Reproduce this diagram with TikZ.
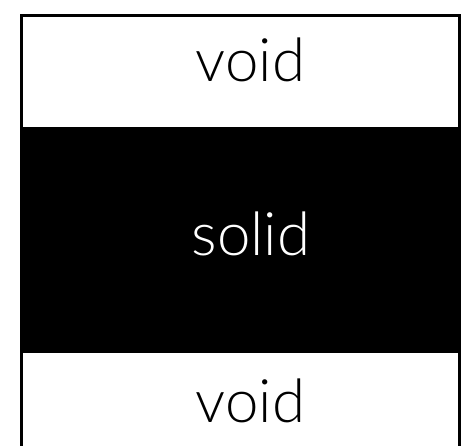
\documentclass[tikz,border=0pt]{standalone}
\usepackage{fontspec}
\setmainfont{Lato}[UprightFont={* Light}]
\begin{document}
\begin{tikzpicture}[x=1pt,y=-1pt,
  lbl/.style={inner sep=0pt,anchor=base,font=\fontsize{60}{60}\selectfont}]
\useasboundingbox (0,0) rectangle (474,446);
\clip (0,0) rectangle (474,446);
\fill[black] (20,127) rectangle (461,353);
\draw[line width=3pt] (21.5,460) -- (21.5,15.5) -- (459.5,15.5) -- (459.5,460);
\node[lbl,text=black] (v1) at (250.5,82) {void};
\node[lbl,text=white] (s) at (251,256) {solid};
\node[lbl,text=black] (v2) at (250.5,422) {void};
\end{tikzpicture}
\end{document}
